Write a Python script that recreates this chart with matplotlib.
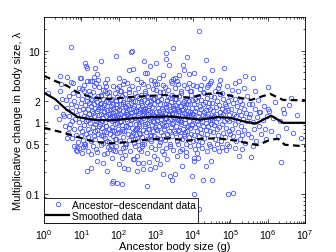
import numpy as np
import matplotlib
matplotlib.use("Agg")
import matplotlib.pyplot as plt
from matplotlib.ticker import FixedLocator, NullFormatter, LogLocator

plt.rcParams['font.family'] = ['Liberation Sans', 'DejaVu Sans']
plt.rcParams['mathtext.fontset'] = 'custom'
plt.rcParams['mathtext.rm'] = 'Liberation Sans'

# scatter data, stored as log10(ancestor size g) and log10(lambda)
lx_a = [0.32,0.41,0.48,0.52,0.55,0.58,0.61,0.63,0.66,0.68,0.70,0.72,0.74,0.76,0.78,0.80,0.81,0.83,0.85,0.86,0.88,0.90,0.91,0.93,0.95,0.96,0.98,0.99]
ly_a = [0.21,0.05,0.33,0.12,-0.05,0.31,0.20,-0.15,0.08,0.36,-0.02,0.25,-0.22,0.15,0.41,-0.10,0.30,0.05,-0.18,0.22,0.10,-0.28,0.38,0.00,0.17,-0.08,0.27,-0.20]

lx_b = [1.01,1.02,1.03,1.04,1.05,1.06,1.07,1.08,1.09,1.10,1.11,1.12,1.13,1.14,1.15,1.16,1.17,1.18,1.19,1.20,1.21,1.22,1.23,1.24,1.25,1.26,1.27,1.28,1.29,1.30,1.31,1.32,1.33,1.34,1.35,1.36,1.37,1.38,1.39,1.40,1.41,1.42,1.43,1.44,1.45,1.46,1.47,1.48,1.49,1.03,1.11,1.19,1.27,1.36,1.44]
ly_b = [0.04,0.33,-0.12,0.19,-0.25,0.09,0.44,-0.04,0.14,-0.31,0.24,0.02,-0.16,0.29,0.07,0.35,-0.09,0.18,-0.21,0.11,0.27,-0.01,0.39,-0.14,0.06,0.23,-0.27,0.16,0.31,-0.07,0.13,0.42,-0.19,0.08,0.26,-0.03,0.20,-0.24,0.34,0.01,0.15,-0.11,0.28,0.05,-0.17,0.37,0.10,-0.06,0.21,0.46,-0.33,0.03,0.32,-0.13,0.18]

lx_c = [1.50,1.51,1.52,1.53,1.54,1.55,1.56,1.57,1.58,1.59,1.60,1.61,1.62,1.63,1.64,1.65,1.66,1.67,1.68,1.69,1.70,1.71,1.72,1.73,1.74,1.75,1.76,1.77,1.78,1.79,1.80,1.81,1.82,1.83,1.84,1.85,1.86,1.87,1.88,1.89,1.90,1.91,1.92,1.93,1.94,1.95,1.96,1.97,1.98,1.99,
        1.52,1.55,1.58,1.61,1.64,1.67,1.70,1.73,1.76,1.79,1.82,1.85,1.88,1.91,1.94,1.97,1.53,1.66,1.81,1.96]
ly_c = [-0.02,0.26,-0.18,0.12,0.38,-0.08,0.21,-0.29,0.06,0.33,0.15,-0.13,0.24,0.00,-0.22,0.30,0.09,-0.05,0.41,0.17,
        -0.26,0.11,0.28,-0.10,0.04,0.36,-0.16,0.19,0.07,-0.34,0.23,0.02,-0.07,0.32,0.13,-0.20,0.25,0.08,-0.12,0.40,
        0.16,-0.03,0.29,-0.24,0.05,0.20,-0.15,0.35,0.10,-0.09,0.27,0.01,-0.19,0.14,0.43,-0.06,0.22,-0.28,0.12,0.31,
        -0.11,0.18,0.03,-0.23,0.26,0.07,0.37,-0.14,0.09,-0.01]

lx_d = [2.00,2.01,2.02,2.03,2.04,2.05,2.06,2.07,2.08,2.09,2.10,2.11,2.12,2.13,2.14,2.15,2.16,2.17,2.18,2.19,2.20,2.21,2.22,2.23,2.24,2.25,2.26,2.27,2.28,2.29,2.30,2.31,2.32,2.33,2.34,2.35,2.36,2.37,2.38,2.39,2.40,2.41,2.42,2.43,2.44,2.45,2.46,2.47,2.48,2.49,
        2.02,2.05,2.08,2.11,2.14,2.17,2.20,2.23,2.26,2.29,2.32,2.35,2.38,2.41,2.44,2.47,2.04,2.19,2.33,2.46]
ly_d = [0.19,-0.14,0.07,0.31,-0.27,0.12,0.02,0.25,-0.09,0.36,-0.04,0.16,-0.21,0.28,0.09,-0.12,0.22,0.39,-0.31,0.05,
        0.14,-0.06,0.33,0.01,-0.17,0.24,0.11,-0.25,0.18,0.42,-0.02,0.08,-0.19,0.27,0.13,-0.08,0.34,0.04,-0.15,0.20,
        0.10,-0.29,0.23,0.06,-0.11,0.30,0.15,-0.03,0.37,-0.22,0.17,0.00,-0.13,0.26,0.07,-0.35,0.21,0.12,-0.07,0.32,
        0.03,-0.18,0.29,0.09,-0.24,0.15,0.44,-0.05,0.19,-0.10]

lx_e = [2.50,2.51,2.52,2.53,2.54,2.55,2.56,2.57,2.58,2.59,2.60,2.61,2.62,2.63,2.64,2.65,2.66,2.67,2.68,2.69,2.70,2.71,2.72,2.73,2.74,2.75,2.76,2.77,2.78,2.79,2.80,2.81,2.82,2.83,2.84,2.85,2.86,2.87,2.88,2.89,2.90,2.91,2.92,2.93,2.94,2.95,2.96,2.97,2.98,2.99,
        2.51,2.54,2.57,2.60,2.63,2.66,2.69,2.72,2.75,2.78,2.81,2.84,2.87,2.90,2.93,2.96,2.56,2.71,2.86,2.98]
ly_e = [-0.08,0.22,0.05,-0.26,0.34,0.13,-0.03,0.18,-0.16,0.27,0.02,0.38,-0.21,0.10,0.24,-0.11,0.06,0.31,-0.30,0.15,
        -0.05,0.20,0.41,-0.14,0.08,0.28,-0.01,-0.23,0.17,0.11,0.35,-0.09,0.03,0.25,-0.18,0.14,-0.27,0.30,0.07,-0.04,
        0.21,0.12,-0.12,0.33,0.00,-0.20,0.26,0.09,-0.07,0.45,0.16,-0.15,0.04,0.29,-0.33,0.19,0.11,-0.02,0.36,-0.10,
        0.23,0.06,-0.24,0.14,0.01,0.32,-0.06,0.18,-0.19,0.08]

lx_f = [3.00,3.01,3.02,3.03,3.04,3.05,3.06,3.07,3.08,3.09,3.10,3.11,3.12,3.13,3.14,3.15,3.16,3.17,3.18,3.19,3.20,3.21,3.22,3.23,3.24,3.25,3.26,3.27,3.28,3.29,3.30,3.31,3.32,3.33,3.34,3.35,3.36,3.37,3.38,3.39,3.40,3.41,3.42,3.43,3.44,3.45,3.46,3.47,3.48,3.49,
        3.02,3.06,3.10,3.14,3.18,3.22,3.26,3.30,3.34,3.38,3.42,3.46,3.04,3.24,3.44]
ly_f = [0.14,-0.10,0.29,0.03,-0.22,0.20,0.08,0.37,-0.05,0.16,-0.28,0.11,0.25,-0.14,0.05,0.33,-0.02,0.19,-0.18,0.09,
        0.42,0.00,-0.09,0.26,0.13,-0.25,0.21,0.06,-0.04,0.31,0.17,-0.16,0.02,0.35,-0.12,0.10,0.24,-0.31,0.15,0.04,
        -0.07,0.28,0.12,-0.20,0.38,0.07,-0.01,0.22,-0.13,0.18,0.01,0.30,-0.24,0.09,0.16,-0.06,0.26,-0.17,0.11,0.34,
        -0.03,0.20,-0.11,0.05,0.13]

lx_g = [3.50,3.51,3.52,3.53,3.54,3.55,3.56,3.57,3.58,3.59,3.60,3.61,3.62,3.63,3.64,3.65,3.66,3.67,3.68,3.69,3.70,3.71,3.72,3.73,3.74,3.75,3.76,3.77,3.78,3.79,3.80,3.81,3.82,3.83,3.84,3.85,3.86,3.87,3.88,3.89,3.90,3.91,3.92,3.93,3.94,3.95,3.96,3.97,3.98,3.99,
        3.52,3.56,3.60,3.64,3.68,3.72,3.76,3.80,3.84,3.88,3.92,3.96,3.58,3.78,3.98]
ly_g = [0.06,0.24,-0.15,0.12,0.32,-0.06,0.19,-0.27,0.03,0.28,0.10,-0.11,0.36,0.15,-0.20,0.01,0.22,-0.03,0.40,0.08,
        -0.24,0.17,0.27,-0.09,0.13,-0.17,0.30,0.04,-0.01,0.21,-0.30,0.11,0.34,-0.13,0.07,0.25,-0.05,0.16,-0.21,0.02,
        0.29,0.14,-0.08,0.38,-0.16,0.09,0.20,-0.02,0.12,-0.26,0.33,0.05,-0.12,0.23,0.00,0.18,-0.19,0.26,-0.07,0.10,
        0.43,-0.04,0.15,-0.14,0.31]

lx_h = [4.00,4.01,4.02,4.03,4.04,4.05,4.06,4.07,4.08,4.09,4.10,4.11,4.12,4.13,4.14,4.15,4.16,4.17,4.18,4.19,4.20,4.21,4.22,4.23,4.24,4.25,4.26,4.27,4.28,4.29,4.30,4.31,4.32,4.33,4.34,4.35,4.36,4.37,4.38,4.39,4.40,4.41,4.42,4.43,4.44,4.45,4.46,4.47,4.48,4.49]
ly_h = [0.11,-0.18,0.26,0.04,-0.07,0.33,0.15,-0.25,0.20,0.01,-0.12,0.29,0.08,-0.03,0.37,-0.20,0.13,0.23,-0.09,0.05,
        0.31,-0.15,0.18,0.02,-0.28,0.25,0.10,-0.05,0.40,0.14,-0.22,0.07,0.28,-0.11,0.17,-0.01,0.34,-0.17,0.09,0.21,
        -0.06,0.12,-0.30,0.27,0.03,0.19,-0.13,0.36,0.06,-0.02]

lx_i = [4.50,4.51,4.52,4.54,4.55,4.56,4.57,4.59,4.60,4.61,4.62,4.64,4.65,4.66,4.67,4.69,4.70,4.71,4.72,4.74,4.75,4.76,4.77,4.79,4.80,4.81,4.82,4.84,4.85,4.86,4.87,4.89,4.90,4.91,4.92,4.94,4.95,4.96,4.97,4.98,4.99,4.53]
ly_i = [0.03,0.27,-0.14,0.16,-0.04,0.35,0.09,-0.23,0.21,0.00,0.12,-0.10,0.30,-0.18,0.06,0.24,-0.07,0.14,0.39,-0.26,
        0.08,0.19,-0.02,0.32,-0.15,0.11,0.02,0.26,-0.21,0.15,-0.08,0.22,0.05,-0.31,0.17,0.29,-0.12,0.10,0.01,-0.17,
        0.36,0.07]

lx_j = [5.01,5.03,5.04,5.06,5.08,5.09,5.11,5.13,5.15,5.16,5.18,5.20,5.21,5.23,5.25,5.27,5.28,5.30,5.32,5.34,5.35,5.37,5.39,5.41,5.43,5.45,5.47,5.49]
ly_j = [0.18,-0.09,0.04,0.27,-0.20,0.12,0.33,-0.03,0.08,-0.26,0.22,0.01,-0.14,0.15,0.30,-0.06,0.10,-0.18,0.25,0.05,
        -0.11,0.19,-0.29,0.13,0.02,0.36,-0.16,0.07]

lx_k = [5.52,5.55,5.58,5.61,5.63,5.66,5.69,5.71,5.74,5.77,5.80,5.83,5.86,5.90,5.94,5.98,5.76,6.00,6.43,6.62,5.50,5.92,5.25]
ly_k = [0.11,-0.21,0.26,0.00,-0.10,0.19,-0.27,0.07,0.31,-0.05,0.14,-0.17,0.03,0.22,-0.24,0.09,0.14,0.19,0.13,0.34,0.26,-0.10,-0.23]

lx_l = [6.03,6.08,6.14,6.20,6.27,6.33,6.41,6.50,6.58,6.67,6.78,6.90]
ly_l = [0.15,-0.12,0.06,0.28,-0.20,0.02,0.19,-0.08,0.24,-0.15,0.10,-0.22]

# fringe of the cloud just outside the dashed band
lx_up = [0.93,1.08,1.21,1.29,1.47,1.58,1.63,1.74,1.86,1.95,2.06,2.15,2.27,2.36,2.44,2.53,2.61,2.72,2.79,2.91,
         3.03,3.12,3.25,3.33,3.41,3.52,3.66,3.74,3.83,3.95,4.07,4.18,4.27,4.38,4.46,4.58,4.67,4.78,4.90,5.05,
         5.20,5.35,1.33,1.70,2.00,2.50,2.95,3.50,3.90,4.40]
ly_up = [0.47,0.52,0.44,0.58,0.49,0.45,0.55,0.42,0.50,0.47,0.43,0.57,0.46,0.51,0.41,0.48,0.56,0.44,0.50,0.46,
         0.53,0.42,0.49,0.45,0.58,0.47,0.43,0.52,0.48,0.44,0.50,0.46,0.42,0.49,0.55,0.44,0.47,0.41,0.50,0.45,
         0.43,0.48,0.50,0.60,0.62,0.60,0.57,0.61,0.55,0.52]
lx_dn = [0.95,1.06,1.18,1.30,1.39,1.52,1.61,1.72,1.84,1.93,2.03,2.12,2.21,2.31,2.43,2.56,2.64,2.76,2.88,2.97,
         3.07,3.16,3.28,3.37,3.46,3.58,3.69,3.80,3.91,4.04,4.13,4.24,4.36,4.44,4.55,4.64,4.76,4.88,4.97,5.12,
         5.30,5.60,1.25,1.78,2.18,2.60,3.22,3.64,4.10,4.70]
ly_dn = [-0.36,-0.31,-0.41,-0.34,-0.38,-0.32,-0.44,-0.35,-0.39,-0.33,-0.42,-0.36,-0.31,-0.40,-0.34,-0.37,-0.30,-0.43,-0.35,-0.38,
         -0.32,-0.41,-0.36,-0.33,-0.39,-0.31,-0.37,-0.42,-0.34,-0.38,-0.32,-0.36,-0.40,-0.33,-0.37,-0.31,-0.35,-0.39,-0.34,-0.36,
         -0.38,-0.33,-0.45,-0.38,-0.46,-0.40,-0.44,-0.41,-0.43,-0.40]

# points away from the main cloud
lx_hi = [0.72,1.10,1.16,1.54,1.92,2.34,1.37,0.61,0.72,1.00,1.16,1.23,1.34,1.43,1.45,1.39,2.01,2.12,2.23,2.28,1.65,
         4.16,2.35,3.27,3.47,3.27,2.68,3.00,3.84,4.34,2.84,3.36,3.72,2.38,2.71,2.77,3.75,4.51,3.18,3.08,3.63,3.90,
         4.02,4.29,2.87,3.45,3.56,4.47,2.65,2.98,3.20,3.42,3.60,4.00,4.20,4.83,4.72,4.70,5.40,5.60,5.22,5.13,6.01,5.66,
         0.43,0.46,0.78,0.11,0.97,1.12,0.43,0.54,0.76,0.67]
ly_hi = [1.05,0.83,0.76,0.86,0.92,0.98,0.76,0.63,0.56,0.61,0.58,0.57,0.63,0.67,0.59,0.54,0.51,0.53,0.54,0.73,0.51,
         1.28,0.99,0.97,1.04,0.88,0.85,0.83,0.91,0.87,0.79,0.80,0.80,0.74,0.69,0.69,0.73,0.73,0.66,0.61,0.66,0.67,
         0.69,0.62,0.59,0.60,0.57,0.58,0.53,0.53,0.52,0.54,0.53,0.52,0.52,0.76,0.59,0.52,0.65,0.61,0.57,0.55,0.49,0.43,
         0.65,0.53,0.55,0.41,0.62,0.78,0.43,0.08,0.01,-0.08]

lx_lo = [1.14,1.68,1.81,2.08,1.41,1.86,1.97,2.08,2.75,0.86,1.05,0.88,1.41,1.68,1.90,2.41,2.49,2.95,3.02,3.11,3.20,
         2.98,2.14,1.83,1.59,2.01,2.25,1.25,3.38,3.51,3.69,3.96,4.25,4.50,4.34,4.48,4.14,4.02,3.81,3.56,3.31,2.66,
         2.82,2.53,2.49,2.38,2.65,2.84,4.16,4.93,5.07,4.02,3.43,5.56,5.22,6.36,4.02,0.80,0.89,1.03,0.61]
ly_lo = [-0.69,-0.69,-0.50,-0.50,-0.54,-0.82,-0.85,-0.86,-0.89,-0.39,-0.35,-0.35,-0.42,-0.43,-0.40,-0.51,-0.68,-0.47,-0.51,-0.58,-0.72,
         -0.63,-0.64,-0.85,-0.57,-0.59,-0.65,-0.64,-0.75,-0.73,-0.62,-0.75,-0.81,-0.81,-0.61,-0.54,-0.50,-0.50,-0.48,-0.48,-0.51,-0.57,
         -0.56,-0.57,-0.48,-0.52,-0.65,-0.66,-1.22,-1.01,-0.99,-1.00,-0.81,-0.49,-0.47,-0.56,-0.54,-0.34,-0.41,-0.43,-0.22]

# smoothed curve and its upper / lower band
smooth_lx = [0, 0.30, 0.59, 0.91, 1.37, 1.82, 2.31, 2.84, 3.32, 3.78, 4.18, 4.66, 4.99, 5.39, 5.68, 6.09, 6.41, 7.0]
smooth_ly = [0.41, 0.32, 0.18, 0.07, 0.03, 0.025, 0.05, 0.07, 0.08, 0.06, 0.035, 0.07, 0.06, 0.005, -0.02, 0.09, -0.01, -0.01]
upper_lx = [0, 0.29, 0.62, 0.88, 1.31, 1.77, 2.39, 2.84, 3.32, 3.86, 4.4, 4.66, 5.12, 5.55, 6.06, 6.41, 7.0]
upper_ly = [0.647, 0.577, 0.507, 0.42, 0.34, 0.325, 0.353, 0.367, 0.38, 0.34, 0.395, 0.41, 0.353, 0.31, 0.395, 0.31, 0.305]
lower_lx = [0, 0.54, 0.88, 1.34, 1.8, 2.33, 2.84, 3.38, 3.86, 4.21, 4.66, 5.15, 5.5, 5.74, 6.06, 6.27, 6.46, 7.0]
lower_ly = [-0.08, -0.15, -0.205, -0.275, -0.296, -0.275, -0.24, -0.226, -0.26, -0.233, -0.226, -0.26, -0.30, -0.32, -0.247, -0.233, -0.317, -0.338]

lx = np.concatenate([lx_a, lx_b, lx_c, lx_d, lx_e, lx_f, lx_g, lx_h, lx_i, lx_j, lx_k, lx_l, lx_up, lx_dn, lx_hi, lx_lo])
ly = np.concatenate([ly_a, ly_b, ly_c, ly_d, ly_e, ly_f, ly_g, ly_h, ly_i, ly_j, ly_k, ly_l, ly_up, ly_dn, ly_hi, ly_lo])

fig = plt.figure(figsize=(3.36, 2.53), dpi=100)
ax = fig.add_axes([0.131, 0.115, 0.777, 0.814])

ax.plot(10**lx, 10**ly, 'o', mfc='none', mec='#4655ff', ms=3.2, mew=0.6,
        label='Ancestor\u2212descendant data')
ax.plot(10**np.array(smooth_lx), 10**np.array(smooth_ly), 'k-', lw=1.6, label='Smoothed data')
ax.plot(10**np.array(upper_lx), 10**np.array(upper_ly), 'k--', lw=1.6, dashes=(3, 2))
ax.plot(10**np.array(lower_lx), 10**np.array(lower_ly), 'k--', lw=1.6, dashes=(3, 2))

ax.set_xscale('log')
ax.set_yscale('log')
ax.set_xlim(1, 1e7)
ax.set_ylim(0.039, 29.5)

ax.xaxis.set_major_locator(FixedLocator([10**k for k in range(8)]))
ax.set_xticklabels(['$10^{%d}$' % k for k in range(8)])
ax.xaxis.set_minor_locator(LogLocator(base=10, subs=np.arange(2, 10), numticks=20))
ax.xaxis.set_minor_formatter(NullFormatter())

yt = [0.1, 0.5, 1, 2, 10]
ax.yaxis.set_major_locator(FixedLocator(yt))
ax.set_yticklabels(['0.1', '0.5', '1', '2', '10'])
ax.yaxis.set_minor_locator(LogLocator(base=10, subs=np.arange(2, 10), numticks=20))
ax.yaxis.set_minor_formatter(NullFormatter())

ax.tick_params(which='both', direction='in', top=True, right=True, labelsize=7.5, width=0.5)
ax.tick_params(which='major', length=3, pad=3)
ax.tick_params(which='minor', length=1.6)
for s in ax.spines.values():
    s.set_linewidth(0.6)

ax.set_xlabel('Ancestor body size (g)', fontsize=8, labelpad=0)
ax.set_ylabel('Multiplicative change in body size, \u03bb', fontsize=8, labelpad=2)

leg = ax.legend(loc='lower left', borderaxespad=0, fontsize=7.5, fancybox=False,
                edgecolor='k', framealpha=1, handlelength=2.2, handletextpad=0.3,
                borderpad=0.2, labelspacing=0.1, markerscale=1.0)
leg.get_frame().set_linewidth(0.6)

fig.savefig('out.png', dpi=100)
